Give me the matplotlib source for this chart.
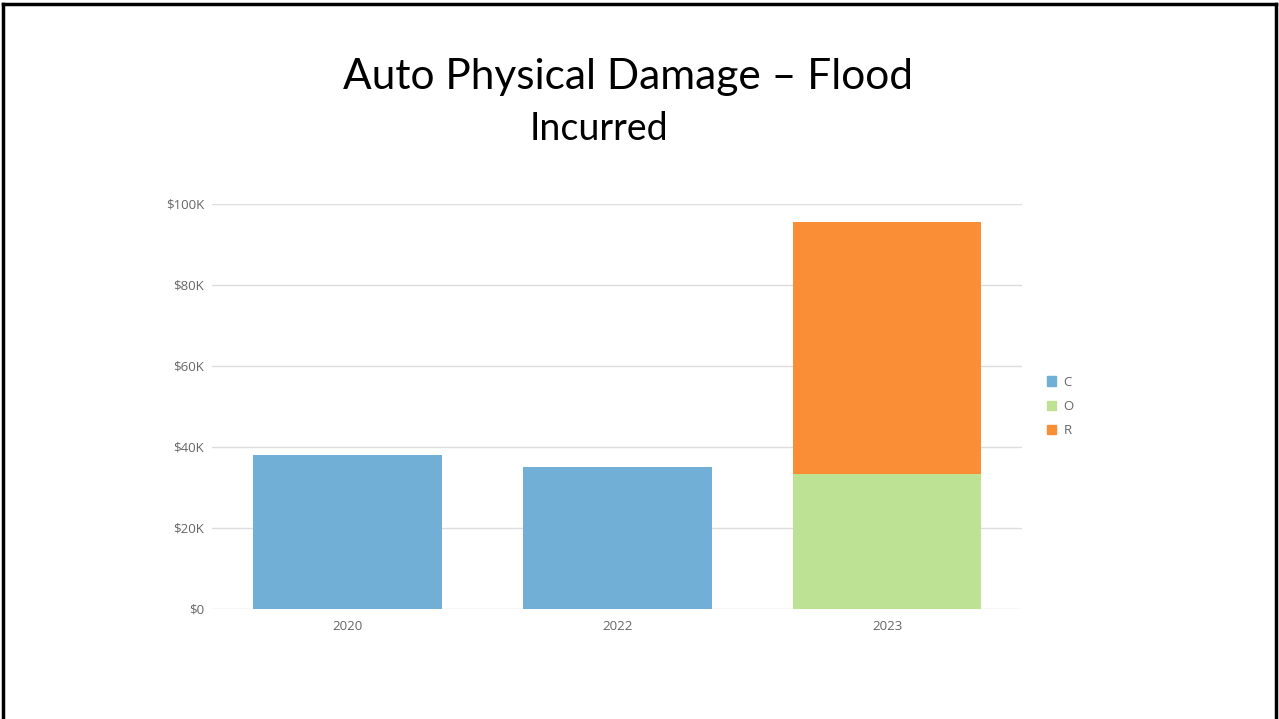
import matplotlib.pyplot as plt
from matplotlib.lines import Line2D
from matplotlib.patches import Patch
from matplotlib.ticker import FuncFormatter

years = ['2020', '2022', '2023']
c_vals = [38.0, 35.1, 0.0]
o_vals = [0.0, 0.0, 33.3]
r_vals = [0.0, 0.0, 62.3]
series = ['C', 'O', 'R']
colors = ['#71AFD7', '#BDE293', '#FA8E37']

plt.rcParams['font.family'] = ['Open Sans', 'DejaVu Sans']

fig = plt.figure(figsize=(12.79, 7.19), dpi=100)
ax = fig.add_axes([0.1661, 0.153, 0.6329, 0.5633])

x = range(len(years))
ax.bar(x, c_vals, width=0.7, color=colors[0], zorder=2)
bottom = c_vals
ax.bar(x, o_vals, width=0.7, bottom=bottom, color=colors[1], zorder=2)
bottom = [a + b for a, b in zip(c_vals, o_vals)]
ax.bar(x, r_vals, width=0.7, bottom=bottom, color=colors[2], zorder=2)

ax.set_xlim(-0.5, 2.5)
ax.set_ylim(0, 100)
ax.set_yticks([0, 20, 40, 60, 80, 100])
ax.yaxis.set_major_formatter(FuncFormatter(lambda v, p: '$0' if v == 0 else f'${v:.0f}K'))
ax.set_xticks(list(x))
ax.set_xticklabels(years)
ax.grid(axis='y', color='#dddddd', linewidth=1, zorder=0)
ax.set_axisbelow(True)
for s in ax.spines.values():
    s.set_visible(False)
ax.tick_params(length=0, colors='#666666', labelsize=9.5)
ax.tick_params(axis='y', pad=6)
ax.tick_params(axis='x', pad=8)

handles = [Patch(color=c) for c in colors]
leg = fig.legend(handles, series, loc='upper left', bbox_to_anchor=(0.809, 0.494),
                 frameon=False, fontsize=9.5, handlelength=0.7, handleheight=0.7,
                 handletextpad=0.6, labelspacing=0.85)
for t in leg.get_texts():
    t.set_color('#666666')

fig.text(0.491, 0.893, 'Auto Physical Damage \u2013 Flood', ha='center', va='center',
         fontsize=30.5, family=['Lato', 'DejaVu Sans'], color='black')
fig.text(0.468, 0.82, 'Incurred', ha='center', va='center',
         fontsize=27, family=['Lato', 'DejaVu Sans'], color='black')

# slide border
for xs, ys in [([0.0025, 0.0025], [0, 0.995]), ([0.0025, 0.998], [0.995, 0.995]),
               ([0.998, 0.998], [0, 0.995])]:
    fig.add_artist(Line2D(xs, ys, color='black', linewidth=2.5, transform=fig.transFigure))

fig.savefig('out.png', dpi=100)
